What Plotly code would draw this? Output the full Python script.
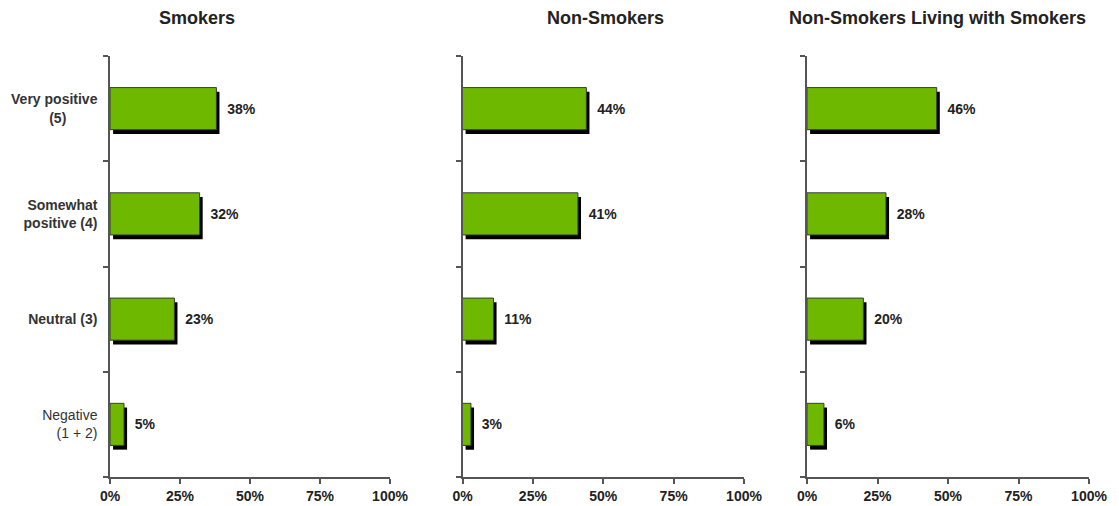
import plotly.graph_objects as go

categories = ["Negative (1 + 2)", "Neutral (3)", "Somewhat positive (4)", "Very positive (5)"]
cat_labels = [
    "Negative<br>(1 + 2)",
    "<b>Neutral (3)</b>",
    "<b>Somewhat</b><br><b>positive (4)</b>",
    "<b>Very positive</b><br><b>(5)" + "\u00a0" * 8 + "</b>",
]
panel_titles = ["Smokers", "Non-Smokers", "Non-Smokers Living with Smokers"]
smokers = [5, 23, 32, 38]
non_smokers = [3, 11, 41, 44]
non_smokers_living = [6, 20, 28, 46]
series = [smokers, non_smokers, non_smokers_living]
x_ticks = [0, 25, 50, 75, 100]
x_ticktext = ["0%", "25%", "50%", "75%", "100%"]

W, H = 1119, 506
x_domains = [(110 / W, 390 / W), (462.5 / W, 744 / W), (807 / W, 1089 / W)]
y_domain = (1 - 477 / H, 1 - 56 / H)
title_x = [197 / W, 605 / W, 937 / W]

GREEN = "#6fb800"
FONT = "Liberation Sans, Arial, sans-serif"

fig = go.Figure()
layout = dict(
    width=W, height=H,
    margin=dict(l=0, r=0, t=0, b=0, autoexpand=False),
    paper_bgcolor="white", plot_bgcolor="white",
    barmode="overlay",
    showlegend=False,
    font=dict(family=FONT, color="#333333", size=12),
)

for i, vals in enumerate(series):
    xa = "x" if i == 0 else f"x{i+1}"
    ya = "y" if i == 0 else f"y{i+1}"
    # shadow
    fig.add_trace(go.Bar(
        x=vals, y=categories, orientation="h", base=1.1,
        width=0.4, offset=-0.24,
        marker=dict(color="black", line=dict(width=0)),
        xaxis=xa, yaxis=ya, hoverinfo="skip",
    ))
    # main bar
    fig.add_trace(go.Bar(
        x=vals, y=categories, orientation="h",
        width=0.4, offset=-0.2,
        marker=dict(color=GREEN, line=dict(color="#3a3a3a", width=1)),
        text=["\u00a0\u00a0" + f"{v}%" for v in vals],
        textposition="outside", cliponaxis=False, constraintext="none",
        textfont=dict(family=FONT, size=14, color="#222222", weight="bold"),
        xaxis=xa, yaxis=ya,
    ))
    xkey = "xaxis" if i == 0 else f"xaxis{i+1}"
    ykey = "yaxis" if i == 0 else f"yaxis{i+1}"
    layout[xkey] = dict(
        domain=list(x_domains[i]), anchor=ya, range=[0, 100],
        tickvals=x_ticks, ticktext=x_ticktext,
        ticks="outside", ticklen=5, tickwidth=1.5, tickcolor="#555555",
        showline=True, linecolor="#555555", linewidth=1.5,
        showgrid=False, zeroline=False, fixedrange=True, automargin=False,
        tickfont=dict(family=FONT, size=14, color="#222222", weight="bold"),
    )
    layout[ykey] = dict(
        domain=list(y_domain), anchor=xa, type="category",
        categoryorder="array", categoryarray=categories,
        range=[-0.5, 3.5], tickson="boundaries",
        tickvals=categories, ticktext=cat_labels,
        ticks="outside", ticklen=5, tickwidth=1.5, tickcolor="#555555",
        showline=True, linecolor="#555555", linewidth=1.5,
        showgrid=False, zeroline=False, fixedrange=True, automargin=False,
        showticklabels=(i == 0), ticklabelstandoff=8,
        tickfont=dict(family=FONT, size=14, color="#333333"),
    )

annotations = []
for i, t in enumerate(panel_titles):
    annotations.append(dict(
        text=f"<b>{t}</b>", x=title_x[i], y=1 - 18 / H,
        xref="paper", yref="paper", xanchor="center", yanchor="middle",
        showarrow=False, font=dict(family=FONT, size=18, color="#222222"),
    ))
layout["annotations"] = annotations

fig.update_layout(**layout)
fig.write_html("out.html")
